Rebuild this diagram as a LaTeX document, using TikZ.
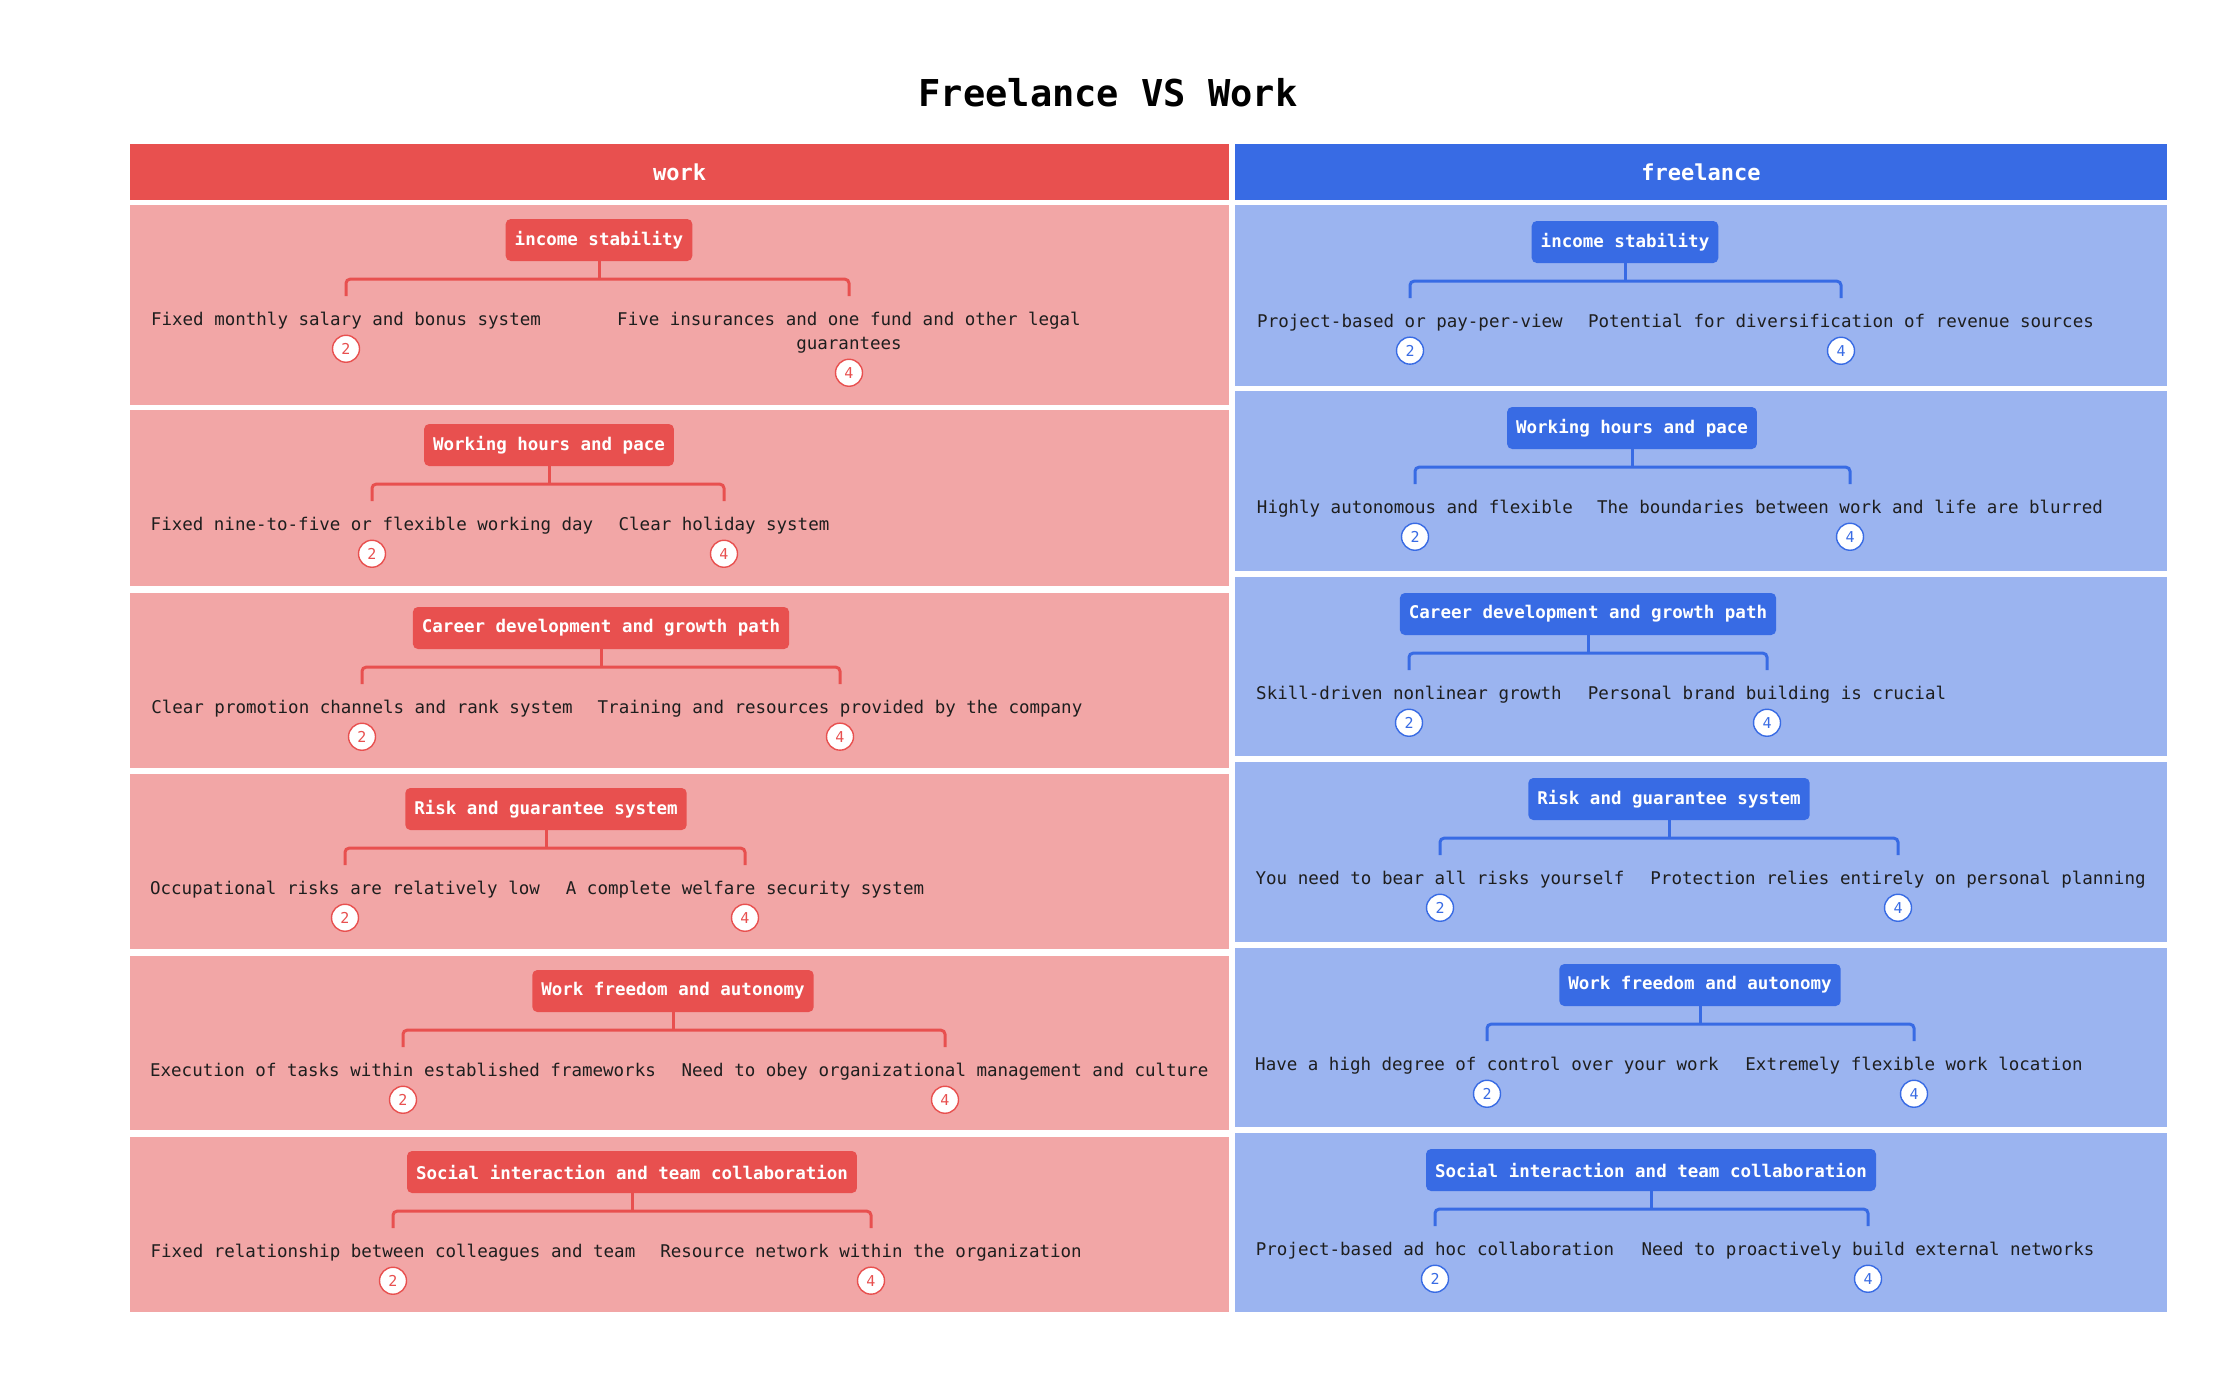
\documentclass[tikz,border=0pt]{standalone}
\usepackage{fontspec}
\setmonofont{DejaVu Sans Mono}
\usetikzlibrary{positioning}
\definecolor{workred}{HTML}{E8504F}
\definecolor{workbg}{HTML}{F2A6A6}
\definecolor{freeblue}{HTML}{386BE4}
\definecolor{freebg}{HTML}{9BB4F0}
\definecolor{ink}{HTML}{1E1E1E}
\tikzset{
  colhead/.style={inner sep=0pt,minimum height=56pt,text=white,
    font=\ttfamily\bfseries\fontsize{22}{26}\selectfont},
  topic/.style={rounded corners=5pt,inner xsep=9pt,inner ysep=0pt,minimum height=42pt,
    text=white,font=\ttfamily\bfseries\fontsize{17.5}{21}\selectfont},
  leaf/.style={anchor=north,inner sep=0pt,align=center,text=ink,
    font=\ttfamily\fontsize{17.5}{24}\selectfont,
    execute at begin node={\vphantom{Fd}},execute at end node={\vphantom{gy}}},
  badge/.style={circle,fill=white,line width=1.4pt,minimum size=27pt,inner sep=0pt,
    font=\ttfamily\fontsize{15}{17}\selectfont},
  brace/.style={line width=3pt,rounded corners=4pt},
}
% one row: name, top, topic x, topic, left x, left text, right x, right text, colour
\newcommand{\cmprow}[9]{%
  \node[topic,fill=#9] (#1) at (#3,#2+35) {#4};
  \node[leaf] (#1a) at (#5,#2+107) {#6};
  \node[leaf] (#1b) at (#7,#2+107) {#8};
  \node[badge,draw=#9,text=#9,below=5pt of #1a] (#1a2) {2};
  \node[badge,draw=#9,text=#9,below=5pt of #1b] (#1b4) {4};
  \draw[brace,#9] (#1) -- ([yshift=-18pt]#1.south);
  \draw[brace,#9] ([yshift=16pt]#1a.north) |- ([yshift=-18pt]#1.south) -| ([yshift=16pt]#1b.north);
}

\begin{document}
\begin{tikzpicture}[x=1pt,y=-1pt]
  \useasboundingbox[fill=white] (0,0) rectangle (2218,1376);
  \node[font=\ttfamily\bfseries\fontsize{37}{44}\selectfont] (title) at (1108,93) {Freelance VS Work};
  \node[colhead,fill=workred,minimum width=1099pt] (workhd) at (679.5,172) {work};
  \node[colhead,fill=freeblue,minimum width=932pt] (freehd) at (1701,172) {freelance};
  % row bands
  \fill[workbg] (130,205) rectangle (1229,405); \fill[freebg] (1235,205) rectangle (2167,386);
  \fill[workbg] (130,410) rectangle (1229,586); \fill[freebg] (1235,391) rectangle (2167,571);
  \fill[workbg] (130,593) rectangle (1229,768); \fill[freebg] (1235,577) rectangle (2167,756);
  \fill[workbg] (130,774) rectangle (1229,949); \fill[freebg] (1235,762) rectangle (2167,942);
  \fill[workbg] (130,956) rectangle (1229,1130); \fill[freebg] (1235,948) rectangle (2167,1127);
  \fill[workbg] (130,1137) rectangle (1229,1312); \fill[freebg] (1235,1133) rectangle (2167,1312);
  % work
  \cmprow{w1}{205}{599}{income stability}{346}{Fixed monthly salary and bonus system}
    {849}{Five insurances and one fund and other legal\\guarantees}{workred}
  \cmprow{w2}{410}{549}{Working hours and pace}{372}{Fixed nine-to-five or flexible working day}
    {724}{Clear holiday system}{workred}
  \cmprow{w3}{593}{601}{Career development and growth path}{362}{Clear promotion channels and rank system}
    {840}{Training and resources provided by the company}{workred}
  \cmprow{w4}{774}{546}{Risk and guarantee system}{345}{Occupational risks are relatively low}
    {745}{A complete welfare security system}{workred}
  \cmprow{w5}{956}{673}{Work freedom and autonomy}{403}{Execution of tasks within established frameworks}
    {945}{Need to obey organizational management and culture}{workred}
  \cmprow{w6}{1137}{632}{Social interaction and team collaboration}{393}{Fixed relationship between colleagues and team}
    {871}{Resource network within the organization}{workred}
  % freelance
  \cmprow{f1}{207}{1625}{income stability}{1410}{Project-based or pay-per-view}
    {1841}{Potential for diversification of revenue sources}{freeblue}
  \cmprow{f2}{393}{1632}{Working hours and pace}{1415}{Highly autonomous and flexible}
    {1850}{The boundaries between work and life are blurred}{freeblue}
  \cmprow{f3}{579}{1588}{Career development and growth path}{1409}{Skill-driven nonlinear growth}
    {1767}{Personal brand building is crucial}{freeblue}
  \cmprow{f4}{764}{1669}{Risk and guarantee system}{1440}{You need to bear all risks yourself}
    {1898}{Protection relies entirely on personal planning}{freeblue}
  \cmprow{f5}{950}{1700}{Work freedom and autonomy}{1487}{Have a high degree of control over your work}
    {1914}{Extremely flexible work location}{freeblue}
  \cmprow{f6}{1135}{1651}{Social interaction and team collaboration}{1435}{Project-based ad hoc collaboration}
    {1868}{Need to proactively build external networks}{freeblue}
\end{tikzpicture}
\end{document}
